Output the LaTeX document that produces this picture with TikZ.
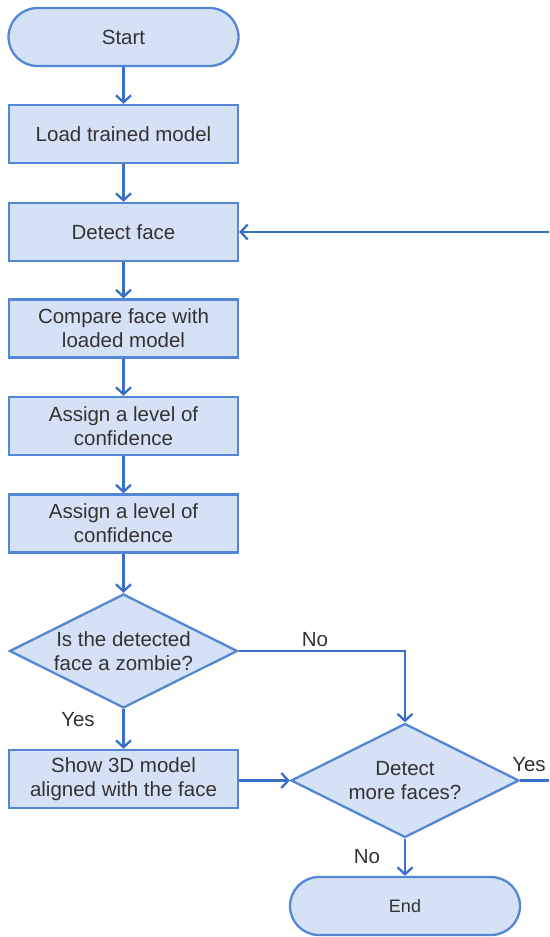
\documentclass[tikz,border=0pt]{standalone}
\usepackage{fontspec}
\setmainfont{Liberation Sans}
\usetikzlibrary{arrows.meta,shapes.geometric}
\definecolor{boxfill}{HTML}{D5E2F5}
\definecolor{boxline}{HTML}{5386D4}
\definecolor{arrline}{HTML}{3A6FC9}
\definecolor{txt}{HTML}{333333}
\tikzset{
  base/.style={draw=boxline, fill=boxfill, line width=2.3pt, text=txt, font=\fontsize{20.5}{24}\selectfont, align=center, inner sep=0pt},
  procbox/.style={base, rectangle, minimum width=229pt, minimum height=58pt},
  termbox/.style={base, rectangle, rounded corners=29pt, minimum width=230pt, minimum height=58pt},
  decbox/.style={base, diamond, minimum width=228pt, minimum height=114pt},
  dectext/.style={text=txt, font=\fontsize{20.5}{24}\selectfont, align=center, inner sep=0pt},
  arr/.style={draw=arrline, line width=2.3pt, -{Straight Barb[length=7pt,width=15pt,line width=2.3pt]}},
  plain/.style={draw=arrline, line width=2.3pt},
  lbl/.style={text=txt, font=\fontsize{20.5}{24}\selectfont, inner sep=0pt}
}
\begin{document}
\begin{tikzpicture}[x=1pt,y=-1pt]
\useasboundingbox (0,0) rectangle (549,937);
\node[termbox] (start) at (123.5,37) {Start};
\node[procbox] (load) at (123.5,134) {Load trained model};
\node[procbox] (detect) at (123.5,232) {Detect face};
\node[procbox] (compare) at (123.5,328.5) {Compare face with\\loaded model};
\node[procbox] (assign1) at (123.5,426) {Assign a level of\\confidence};
\node[procbox] (assign2) at (123.5,523.5) {Assign a level of\\confidence};
\node[decbox] (zombie) at (123.5,651) {};
\node[dectext] at (zombie) {Is the detected\\face a zombie?};
\node[procbox] (show) at (123.5,779) {Show 3D model\\aligned with the face};
\node[decbox] (more) at (405,780.5) {};
\node[dectext] at (more) {Detect\\more faces?};
\node[termbox, font=\fontsize{18}{21}\selectfont] (end) at (405,906) {End};
\coordinate (loopin) at (549,232);
\coordinate (yesout) at (549,780.5);
\draw[arr] (start) -- (load);
\draw[arr] (load) -- (detect);
\draw[arr] (detect) -- (compare);
\draw[arr] (compare) -- (assign1);
\draw[arr] (assign1) -- (assign2);
\draw[arr] (assign2) -- (zombie);
\draw[arr] (zombie) -- (show);
\draw[arr] (zombie.east) -| (more.north);
\draw[arr] (show.east |- more) -- (more.west);
\draw[arr] (more) -- (end);
\draw[arr] (loopin) -- (detect.east);
\draw[plain] (more.east) -- (yesout);
\node[lbl] (lno1) at (315,640) {No};
\node[lbl] (lyes1) at (78,720) {Yes};
\node[lbl] (lyes2) at (529,765) {Yes};
\node[lbl] (lno2) at (367,857) {No};
\end{tikzpicture}
\end{document}
